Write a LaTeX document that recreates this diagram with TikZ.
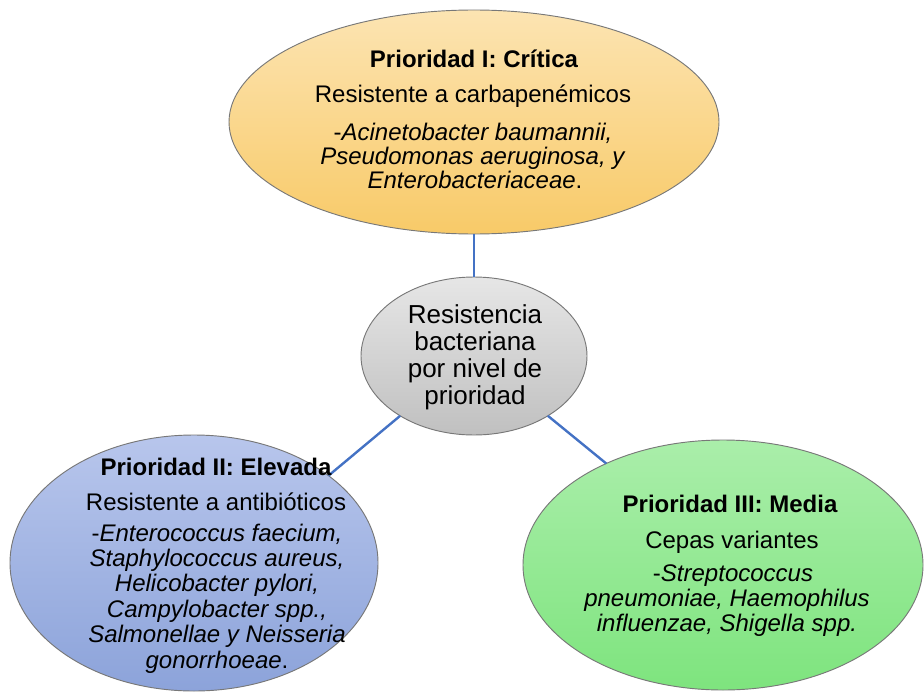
\documentclass[tikz,border=0pt]{standalone}
\usepackage{fontspec}
\setmainfont{Liberation Sans}
\usetikzlibrary{shapes.geometric}

\definecolor{critTop}{RGB}{252,228,178}
\definecolor{critBot}{RGB}{248,202,104}
\definecolor{coreTop}{RGB}{230,230,230}
\definecolor{coreBot}{RGB}{192,192,192}
\definecolor{highTop}{RGB}{184,198,236}
\definecolor{highBot}{RGB}{140,163,218}
\definecolor{medTop}{RGB}{170,238,170}
\definecolor{medBot}{RGB}{126,228,126}
\definecolor{rim}{RGB}{120,120,120}
\definecolor{linkblue}{RGB}{68,114,196}

\tikzset{
  bubble/.style={ellipse, draw=rim, line width=0.7pt, inner sep=0pt, outer sep=0pt},
  link/.style={draw=linkblue, line width=1.8pt},
  ln/.style={anchor=base, inner sep=0pt, font=\fontsize{18}{18}\selectfont},
  corel/.style={anchor=base, inner sep=0pt, font=\fontsize{19.5}{20}\selectfont}
}

\begin{document}
\begin{tikzpicture}[x=0.75pt,y=-0.75pt]
\useasboundingbox (0,0) rectangle (924,692);

% the four bubbles
\node[bubble, minimum width=367.5pt, minimum height=168pt,
      top color=critTop, bottom color=critBot] (crit) at (474,122) {};
\node[bubble, minimum width=169.5pt, minimum height=118.5pt,
      top color=coreTop, bottom color=coreBot] (core) at (474,356) {};
\node[bubble, minimum width=276pt, minimum height=192pt,
      top color=highTop, bottom color=highBot] (high) at (194,563) {};
\node[bubble, minimum width=300pt, minimum height=187.5pt,
      top color=medTop, bottom color=medBot] (med) at (723,565) {};

% connectors
\draw[link] (crit.south) -- (core.north);
\draw[link] (core.219.7) -- (high.33.3);
\draw[link] (core.321.8) -- (med.139.4);

% critical priority
\node[ln, font=\fontsize{18}{18}\selectfont\bfseries] (c1) at (474,68) {Prioridad I: Crítica};
\node[ln] (c2) at (473,103) {Resistente a carbapenémicos};
\node[ln] (c3) at (473,140) {-\textit{Acinetobacter baumannii,}};
\node[ln] (c4) at (473,164) {\textit{Pseudomonas aeruginosa, y}};
\node[ln] (c5) at (475,188) {\textit{Enterobacteriaceae}.};

% centre
\node[corel] (m1) at (475,323) {Resistencia};
\node[corel] (m2) at (475,350) {bacteriana};
\node[corel] (m3) at (475,377) {por nivel de};
\node[corel] (m4) at (475,404) {prioridad};

% high priority
\node[ln, font=\fontsize{18}{18}\selectfont\bfseries] (h1) at (216,475) {Prioridad II: Elevada};
\node[ln] (h2) at (216,510) {Resistente a antibióticos};
\node[ln] (h3) at (217,541) {-\textit{Enterococcus faecium,}};
\node[ln] (h4) at (217,566) {\textit{Staphylococcus aureus,}};
\node[ln] (h5) at (217,591) {\textit{Helicobacter pylori,}};
\node[ln] (h6) at (217,617) {\textit{Campylobacter spp.,}};
\node[ln] (h7) at (217,642) {\textit{Salmonellae y Neisseria}};
\node[ln] (h8) at (217,668) {\textit{gonorrhoeae}.};

% medium priority
\node[ln, font=\fontsize{18}{18}\selectfont\bfseries] (r1) at (730,512) {Prioridad III: Media};
\node[ln] (r2) at (732,548) {Cepas variantes};
\node[ln] (r3) at (733,581) {-\textit{Streptococcus}};
\node[ln] (r4) at (727,606) {\textit{pneumoniae, Haemophilus}};
\node[ln] (r5) at (727,631) {\textit{influenzae, Shigella spp.}};
\end{tikzpicture}
\end{document}
